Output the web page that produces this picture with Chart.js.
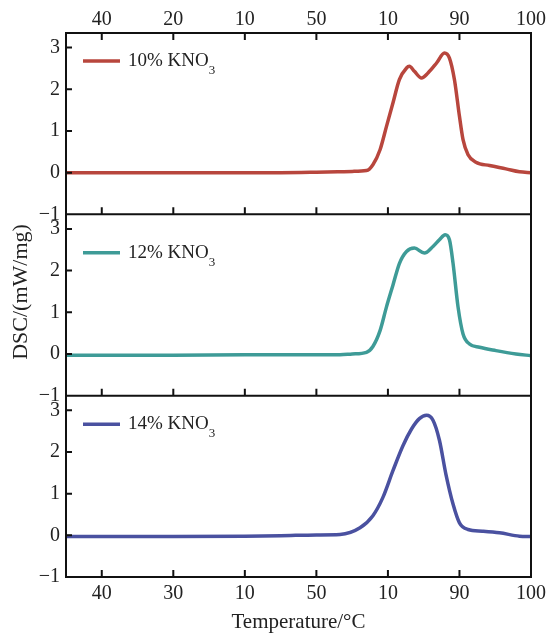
<!DOCTYPE html>
<html>
<head>
<meta charset="utf-8">
<script src="https://cdn.jsdelivr.net/npm/chart.js@4.4.1/dist/chart.umd.min.js"></script>
<style>
  html, body { margin: 0; padding: 0; background: #fff; }
  canvas { display: block; }
</style>
</head>
<body>
<canvas id="dsc-chart" width="551" height="637"></canvas>
<script>
// x is measured in tick slots (1..7); the figure prints these odd labels on them
const topTickLabels = ['40', '20', '10', '50', '10', '90', '100'];
const bottomTickLabels = ['40', '30', '10', '50', '10', '90', '100'];
const yTicks = [-1, 0, 1, 2, 3];

const seriesNames = ['10% KNO', '12% KNO', '14% KNO'];
const seriesColors = ['#b8463d', '#3e9b97', '#4a51a0'];

const xRed = [0.5, 1, 2, 3, 3.5, 4, 4.3, 4.5, 4.7, 4.79, 4.89, 4.98, 5.07, 5.16, 5.26, 5.3, 5.37, 5.47, 5.56, 5.68, 5.79, 5.86, 5.93, 6.0, 6.05, 6.12, 6.23, 6.42, 6.65, 6.84, 7];
const yRed = [0, 0, 0, 0, 0, 0.01, 0.02, 0.03, 0.05, 0.19, 0.55, 1.11, 1.67, 2.23, 2.51, 2.55, 2.43, 2.27, 2.39, 2.63, 2.87, 2.75, 2.23, 1.35, 0.79, 0.43, 0.25, 0.17, 0.09, 0.02, 0];

const xTeal = [0.5, 2, 3, 4, 4.33, 4.5, 4.7, 4.79, 4.89, 4.98, 5.07, 5.16, 5.26, 5.37, 5.51, 5.63, 5.72, 5.8, 5.86, 5.91, 5.98, 6.05, 6.14, 6.28, 6.51, 6.79, 7];
const yTeal = [-0.03, -0.03, -0.02, -0.02, -0.02, 0, 0.04, 0.18, 0.56, 1.13, 1.65, 2.17, 2.46, 2.54, 2.42, 2.58, 2.74, 2.86, 2.74, 2.18, 1.13, 0.48, 0.24, 0.16, 0.08, 0, -0.04];

const xBlue = [0.5, 2, 3, 3.5, 4, 4.33, 4.61, 4.79, 4.93, 5.07, 5.21, 5.33, 5.44, 5.54, 5.63, 5.72, 5.81, 5.91, 6.0, 6.12, 6.32, 6.56, 6.84, 7];
const yBlue = [-0.03, -0.03, -0.02, -0.01, 0.01, 0.02, 0.18, 0.47, 0.91, 1.55, 2.15, 2.55, 2.8, 2.88, 2.76, 2.28, 1.47, 0.75, 0.3, 0.14, 0.1, 0.06, -0.02, -0.03];

const panelIds = ['yA', 'yB', 'yC'];
const legendOffsets = [28, 38.5, 28.5];

function toPoints(xs, ys) {
    return xs.map((x, i) => ({ x: x, y: ys[i] }));
}

function minusLabel(v) {
    return v < 0 ? '\u2212' + Math.abs(v) : String(v);
}

const serif = 'Liberation Serif';

function panelScale() {
    return {
        type: 'linear',
        position: 'left',
        stack: 'dsc',
        stackWeight: 1,
        min: -1,
        max: 3.35,
        grid: { display: false, drawTicks: false },
        border: { display: false },
        ticks: {
            stepSize: 1,
            includeBounds: false,
            autoSkip: false,
            padding: 6,
            color: '#222',
            font: { family: serif, size: 20 },
            callback: minusLabel
        },
        afterFit: (scale) => { scale.width = 66; }
    };
}

// ticks point inward, the frame and panel dividers are drawn by hand
const framePlugin = {
    id: 'frame',
    afterDatasetsDraw(chart) {
        const ctx = chart.ctx;
        const area = chart.chartArea;
        const xs = chart.scales.x;
        const panels = panelIds.map(id => chart.scales[id]);
        ctx.save();
        ctx.strokeStyle = '#111';
        ctx.lineWidth = 2;
        ctx.strokeRect(area.left, area.top, area.right - area.left, area.bottom - area.top);

        ctx.beginPath();
        panels.forEach((s, i) => {
            if (i < panels.length - 1) {
                ctx.moveTo(area.left, s.bottom);
                ctx.lineTo(area.right, s.bottom);
            }
            yTicks.forEach(v => {
                const py = s.getPixelForValue(v);
                ctx.moveTo(area.left, py);
                ctx.lineTo(area.left + 6, py);
            });
            bottomTickLabels.forEach((_, k) => {
                const px = xs.getPixelForValue(k + 1);
                ctx.moveTo(px, s.bottom);
                ctx.lineTo(px, s.bottom - 7);
            });
        });
        topTickLabels.forEach((_, k) => {
            const px = xs.getPixelForValue(k + 1);
            ctx.moveTo(px, area.top);
            ctx.lineTo(px, area.top + 7);
        });
        ctx.stroke();

        // legends, one per panel
        panels.forEach((s, i) => {
            const ly = s.top + legendOffsets[i];
            ctx.strokeStyle = seriesColors[i];
            ctx.lineWidth = 3.5;
            ctx.beginPath();
            ctx.moveTo(area.left + 17, ly);
            ctx.lineTo(area.left + 54, ly);
            ctx.stroke();
            ctx.fillStyle = '#222';
            ctx.textAlign = 'left';
            ctx.textBaseline = 'alphabetic';
            ctx.font = '19px "' + serif + '"';
            ctx.fillText(seriesNames[i], area.left + 62, ly + 5);
            const w = ctx.measureText(seriesNames[i]).width;
            ctx.font = '13px "' + serif + '"';
            ctx.fillText('3', area.left + 62 + w, ly + 13);
        });

        ctx.translate(21, 292);
        ctx.rotate(-Math.PI / 2);
        ctx.textAlign = 'center';
        ctx.textBaseline = 'middle';
        ctx.font = '22px "' + serif + '"';
        ctx.fillStyle = '#222';
        ctx.fillText('DSC/(mW/mg)', 0, 0);
        ctx.restore();
    }
};

const ctx = document.getElementById('dsc-chart').getContext('2d');

new Chart(ctx, {
    type: 'line',
    data: {
        datasets: [
            { data: toPoints(xRed, yRed), yAxisID: 'yA', borderColor: seriesColors[0] },
            { data: toPoints(xTeal, yTeal), yAxisID: 'yB', borderColor: seriesColors[1] },
            { data: toPoints(xBlue, yBlue), yAxisID: 'yC', borderColor: seriesColors[2] }
        ].map(d => Object.assign(d, {
            xAxisID: 'x',
            borderWidth: 3.5,
            pointRadius: 0,
            cubicInterpolationMode: 'monotone',
            fill: false
        }))
    },
    options: {
        responsive: false,
        animation: false,
        layout: { autoPadding: false, padding: { left: 0, right: 19, top: 0, bottom: 0 } },
        plugins: { legend: { display: false }, tooltip: { enabled: false } },
        scales: {
            x: {
                type: 'linear',
                position: 'bottom',
                min: 0.5,
                max: 7,
                grid: { display: false, drawTicks: false },
                border: { display: false },
                ticks: {
                    stepSize: 1,
                    includeBounds: false,
                    autoSkip: false,
                    maxRotation: 0,
                    padding: 5,
                    color: '#222',
                    font: { family: serif, size: 20 },
                    callback: (v) => bottomTickLabels[v - 1]
                },
                title: {
                    display: true,
                    text: 'Temperature/\u00B0C',
                    color: '#222',
                    font: { family: serif, size: 21 },
                    padding: { top: 0, bottom: 2 }
                },
                afterFit: (scale) => { scale.height = 60; }
            },
            x2: {
                type: 'linear',
                axis: 'x',
                position: 'top',
                min: 0.5,
                max: 7,
                grid: { display: false, drawTicks: false },
                border: { display: false },
                ticks: {
                    stepSize: 1,
                    includeBounds: false,
                    autoSkip: false,
                    maxRotation: 0,
                    padding: 1,
                    color: '#222',
                    font: { family: serif, size: 20 },
                    callback: (v) => topTickLabels[v - 1]
                },
                afterFit: (scale) => { scale.height = 33; }
            },
            yC: panelScale(),
            yB: panelScale(),
            yA: panelScale()
        }
    },
    plugins: [framePlugin]
});
</script>
</body>
</html>
